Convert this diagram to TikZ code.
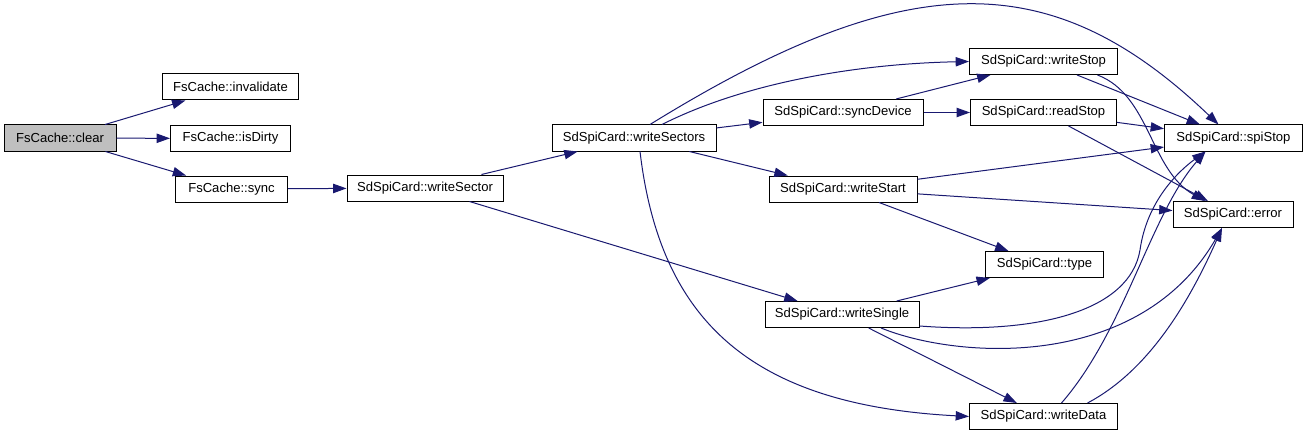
\documentclass[tikz,border=0pt]{standalone}
\usepackage{fontspec}
\setmainfont{Liberation Sans}
\usepackage{tikz}
\usetikzlibrary{arrows.meta,calc}
\definecolor{edgeblue}{HTML}{191970}
\definecolor{rootgrey}{HTML}{BFBFBF}
\tikzset{
  fn/.style={draw=black,line width=0.75pt,fill=white,inner sep=1pt,
             minimum height=19.5pt,font=\fontsize{9.8}{11}\selectfont},
  root/.style={fn,fill=rootgrey},
  call/.style={-{Triangle[length=10pt,width=7pt]},line width=0.75pt,edgeblue},
}
\begin{document}
\begin{tikzpicture}[x=0.75pt,y=-0.75pt]
  \useasboundingbox (0,0) rectangle (1307,435);
  % callers on the left
  \node[root,minimum width=84pt]    (clear)      at (60,138)    {FsCache::clear};
  \node[fn,minimum width=102pt]     (invalidate) at (230.5,87)  {FsCache::invalidate};
  \node[fn,minimum width=90pt]      (isDirty)    at (230.5,138.5) {FsCache::isDirty};
  \node[fn,minimum width=84pt]      (sync)       at (231.5,189) {FsCache::sync};
  \node[fn,minimum width=117pt]     (wSector)    at (425,188)   {SdSpiCard::writeSector};
  \node[fn,minimum width=123pt]     (wSectors)   at (634,138)   {SdSpiCard::writeSectors};
  % middle column
  \node[fn,minimum width=120pt]     (syncDev)    at (843,112.5) {SdSpiCard::syncDevice};
  \node[fn,minimum width=111pt]     (wStart)     at (843,189)   {SdSpiCard::writeStart};
  \node[fn,minimum width=115.5pt]   (wSingle)    at (842,314.5) {SdSpiCard::writeSingle};
  % right columns
  \node[fn,minimum width=111pt]     (wStop)      at (1043.5,61.5) {SdSpiCard::writeStop};
  \node[fn,minimum width=109.5pt]   (rStop)      at (1043.5,112.5) {SdSpiCard::readStop};
  \node[fn,minimum width=88.5pt]    (type)       at (1044.5,264.5) {SdSpiCard::type};
  \node[fn,minimum width=111pt]     (wData)      at (1043.5,416.5) {SdSpiCard::writeData};
  \node[fn,minimum width=103.5pt]   (spiStop)    at (1233.5,138) {SdSpiCard::spiStop};
  \node[fn,minimum width=90pt]      (error)      at (1233,214.5) {SdSpiCard::error};
  \draw[call] (clear) -- (invalidate);
  \draw[call] (clear) -- (isDirty);
  \draw[call] (clear) -- (sync);
  \draw[call] (sync) -- (wSector);
  \draw[call] (wSector) -- (wSectors);
  \draw[call] (wSector) -- (wSingle);
  \draw[call] (wSectors) -- (syncDev);
  \draw[call] (wSectors) -- (wStart);
  \draw[call] ($(wSectors.north)+(28,0)$) .. controls (740,85) and (850,64) .. (wStop.west);
  \draw[call] ($(wSectors.north)+(16,0)$) .. controls (908,-35) and (1052,-35) .. ($(spiStop.north)+(-15,0)$);
  \draw[call] ($(wSectors.south)+(6,0)$) .. controls (660,320) and (750,405) .. (wData.west);
  \draw[call] (syncDev) -- (wStop);
  \draw[call] (syncDev) -- (rStop);
  \draw[call] (wStop) -- (spiStop);
  \draw[call] ($(wStop.south)+(54,0)$) .. controls (1150,95) and (1150,170) .. ($(error.north)+(-28,0)$);
  \draw[call] (rStop) -- (spiStop);
  \draw[call] (rStop) -- (error);
  \draw[call] (wStart) -- (spiStop);
  \draw[call] (wStart) -- (error);
  \draw[call] (wStart) -- (type);
  \draw[call] (wSingle) -- (type);
  \draw[call] (wSingle) -- (wData);
  \draw[call] ($(wSingle.south east)+(0,-2)$) .. controls (1040,335) and (1130,310) .. (1140,250)
              .. controls (1147,200) and (1180,170) .. ($(spiStop.south)+(-28,0)$);
  \draw[call] ($(wSingle.south)+(39,0)$) .. controls (960,360) and (1140,370) .. ($(error.south)+(-11,0)$);
  \draw[call] ($(wData.north)+(18,0)$) .. controls (1125,330) and (1150,215) .. ($(spiStop.south)+(-28,0)$);
  \draw[call] ($(wData.north)+(44,0)$) .. controls (1150,370) and (1190,300) .. ($(error.south)+(-11,0)$);
\end{tikzpicture}
\end{document}
